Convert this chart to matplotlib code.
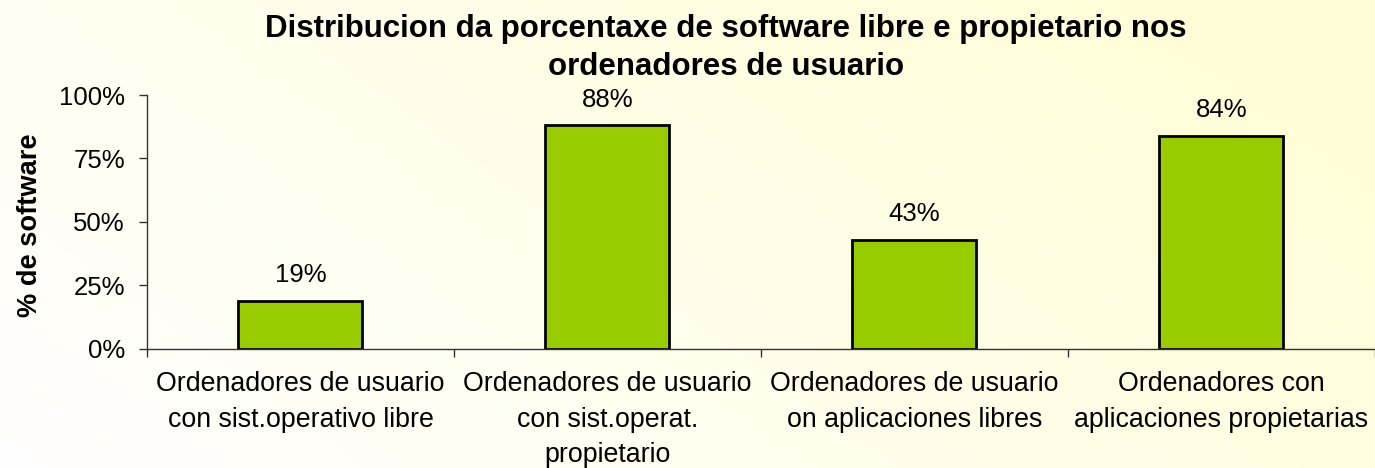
import numpy as np
from matplotlib import pyplot as plt

plt.rcParams['font.family'] = ['Liberation Sans', 'DejaVu Sans']

categories = [
    "Ordenadores de usuario\ncon sist.operativo libre",
    "Ordenadores de usuario\ncon sist.operat.\npropietario",
    "Ordenadores de usuario\non aplicaciones libres",
    "Ordenadores con\naplicaciones propietarias",
]
values = [19, 88, 43, 84]
y_ticks = [0, 25, 50, 75, 100]

title = "Distribucion da porcentaxe de software libre e propietario nos\nordenadores de usuario"

fig = plt.figure(figsize=(13.75, 4.68), dpi=100)

# soft white -> pale yellow background
bg = fig.add_axes([0, 0, 1, 1], zorder=-10)
gx, gy = np.meshgrid(np.linspace(0, 1, 300), np.linspace(0, 1, 100))
t = np.clip(0.75 * gx + 0.35 * gy, 0, 1)
c0 = np.array([1.0, 1.0, 1.0])
c1 = np.array([1.0, 0.99, 0.84])
img = c0 + (c1 - c0) * t[..., None]
bg.imshow(img, extent=[0, 1, 0, 1], origin='lower', aspect='auto')
bg.axis('off')

ax = fig.add_axes([0.1069, 0.2543, 0.893, 0.5427])
ax.patch.set_alpha(0)

x = np.arange(len(categories))
bars = ax.bar(x, values, width=0.404, color='#99CC00', edgecolor='black', linewidth=2)
for xi, v in zip(x, values):
    ax.annotate(f"{v}%", (xi, v), xytext=(0, 10), textcoords='offset points',
                ha='center', va='bottom', fontsize=18.5)

ax.set_xlim(-0.5, len(categories) - 0.5)
ax.set_ylim(0, 100)
ax.set_yticks(y_ticks)
ax.set_yticklabels([f"{v}%" for v in y_ticks], fontsize=18.5)
ax.set_xticks(x)
ax.set_xticklabels(categories, fontsize=19.3, linespacing=1.48)
ax.set_xticks(np.arange(-0.5, len(categories)), minor=True)
ax.tick_params(axis='x', which='major', length=0, pad=16)
ax.tick_params(axis='x', which='minor', length=6, color='#333333', width=1)
ax.tick_params(axis='y', length=6, color='#333333', width=1, pad=10)

for side in ['top', 'right']:
    ax.spines[side].set_visible(False)
for side in ['left', 'bottom']:
    ax.spines[side].set_color('#333333')
    ax.spines[side].set_linewidth(1)

fig.text(0.022, 0.519, "% de software", rotation=90, ha='center', va='center',
         fontsize=19.6, fontweight='bold')
fig.text(0.528, 0.897, title, ha='center', va='center', fontsize=22.5,
         fontweight='bold', linespacing=1.35)

fig.savefig('out.png', dpi=100)
